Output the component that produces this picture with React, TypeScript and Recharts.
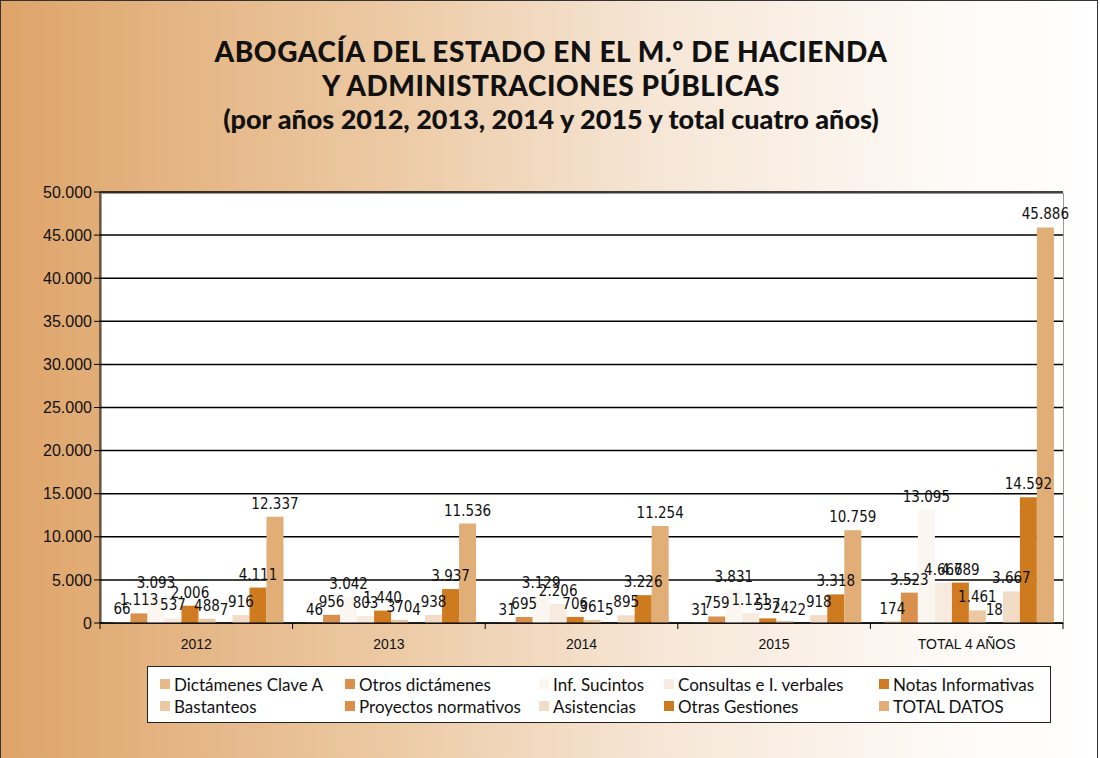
import { BarChart, Bar, XAxis, YAxis, CartesianGrid, LabelList } from "recharts"

const categories = ["2012", "2013", "2014", "2015", "TOTAL 4 AÑOS"]
const dictamenesClaveA = [66, 46, 31, 31, 174]
const otrosDictamenes = [1113, 956, 695, 759, 3523]
const infSucintos = [3093, 3042, 3129, 3831, 13095]
const consultasVerbales = [537, 803, 2206, 1121, 4667]
const notasInformativas = [2006, 1440, 706, 537, 4689]
const bastanteos = [488, 370, 361, 242, 1461]
const proyectosNormativos = [7, 4, 5, 2, 18]
const asistencias = [916, 938, 895, 918, 3667]
const otrasGestiones = [4111, 3937, 3226, 3318, 14592]
const totalDatos = [12337, 11536, 11254, 10759, 45886]
const yTicks = [0, 5000, 10000, 15000, 20000, 25000, 30000, 35000, 40000, 45000, 50000]

const series = [
  { key: "dict", name: "Dictámenes Clave A", values: dictamenesClaveA, color: "#e6b98b" },
  { key: "otros", name: "Otros dictámenes", values: otrosDictamenes, color: "#d9904c" },
  { key: "inf", name: "Inf. Sucintos", values: infSucintos, color: "#fcf6f1" },
  { key: "cons", name: "Consultas e I. verbales", values: consultasVerbales, color: "#f7ebdf" },
  { key: "notas", name: "Notas Informativas", values: notasInformativas, color: "#d07b22" },
  { key: "bast", name: "Bastanteos", values: bastanteos, color: "#ecc9a2" },
  { key: "proy", name: "Proyectos normativos", values: proyectosNormativos, color: "#d98f4a" },
  { key: "asist", name: "Asistencias", values: asistencias, color: "#f3dcc5" },
  { key: "otras", name: "Otras Gestiones", values: otrasGestiones, color: "#ce7a1f" },
  { key: "total", name: "TOTAL DATOS", values: totalDatos, color: "#e1ae77" },
]

const data = categories.map((c, i) => {
  const row: Record<string, string | number> = { name: c }
  series.forEach((s) => (row[s.key] = s.values[i]))
  return row
})

const fmt = (v: number) => String(v).replace(/\B(?=(\d{3})+(?!\d))/g, ".")

const W = 1100
const H = 758
const M = { top: 192, right: 37, left: 0, bottom: 105 }
const Y_W = 100
const plotW = W - Y_W - M.right - M.left
const bandW = plotW / categories.length

function XTick(props: any) {
  const { x, y, payload, index } = props
  const top = y - 8
  return (
    <g>
      <line x1={x - bandW / 2} x2={x - bandW / 2} y1={top} y2={top + 6} stroke="#000" />
      {index === categories.length - 1 && (
        <line x1={x + bandW / 2} x2={x + bandW / 2} y1={top} y2={top + 6} stroke="#000" />
      )}
      <text x={x} y={y + 18} textAnchor="middle" fontSize={14} fill="#111" fontFamily="Liberation Sans, Arial, sans-serif">
        {payload.value}
      </text>
    </g>
  )
}

export default function App() {
  const plotH = H - M.top - M.bottom - 30
  return (
    <div
      style={{
        position: "absolute",
        left: 0,
        top: 0,
        width: W - 4,
        height: H - 1,
        border: "1px solid #333",
        borderBottom: "none",
        background: "linear-gradient(to right, #dea469 0%, #ecc9a3 35%, #f6e6d6 60%, #fdf9f5 85%, #ffffff 100%)",
        overflow: "hidden",
        fontFamily: "Lato, 'Open Sans', sans-serif",
      }}
    >
      <div
        style={{
          position: "absolute",
          top: 33,
          left: 0,
          width: W,
          textAlign: "center",
          fontWeight: 900,
          lineHeight: "34px",
          color: "#111",
        }}
      >
        <div style={{ fontSize: 28, letterSpacing: 0.6 }}>ABOGACÍA DEL ESTADO EN EL M.º DE HACIENDA</div>
        <div style={{ fontSize: 28, letterSpacing: 0.6 }}>Y ADMINISTRACIONES PÚBLICAS</div>
        <div style={{ fontSize: 27 }}>(por años 2012, 2013, 2014 y 2015 y total cuatro años)</div>
      </div>
      <div
        style={{
          position: "absolute",
          left: Y_W,
          top: M.top,
          width: plotW,
          height: plotH,
          background: "#fff",
          border: "1px solid #9a9a9a",
          boxSizing: "border-box",
        }}
      />
      <div style={{ position: "absolute", left: -1, top: -1 }}>
        <BarChart width={W} height={H} data={data} margin={M} barCategoryGap="7%" barGap={0}>
          <CartesianGrid vertical={false} stroke="#000" strokeWidth={1.5} />
          <XAxis
            dataKey="name"
            stroke="#000"
            tickLine={false}
            tick={<XTick />}
            height={30}
            interval={0}
          />
          <YAxis
            width={Y_W}
            domain={[0, 50000]}
            ticks={yTicks}
            tickFormatter={fmt}
            stroke="#000"
            tickSize={6}
            tick={{ fill: "#111", fontSize: 16, fontFamily: "Liberation Sans, Arial, sans-serif" }}
          />
          {series.map((s) => (
            <Bar key={s.key} dataKey={s.key} name={s.name} fill={s.color} isAnimationActive={false}>
              <LabelList
                dataKey={s.key}
                position="top"
                offset={8}
                formatter={(v: any) => fmt(Number(v))}
                style={{ fill: "#111", fontSize: 15, fontFamily: "'Liberation Sans Narrow', 'DejaVu Sans Condensed', sans-serif" }}
              />
            </Bar>
          ))}
        </BarChart>
      </div>
      <div
        style={{
          position: "absolute",
          left: 146,
          top: 665,
          width: 904,
          height: 57,
          background: "#fff",
          border: "1.5px solid #222",
          boxSizing: "border-box",
          display: "grid",
          gridTemplateColumns: "185px 194px 125px 215px 180px",
          gridTemplateRows: "22px 22px",
          padding: "6px 0 0 12px",
          fontSize: 17,
          color: "#111",
        }}
      >
        {series.map((s) => (
          <div key={s.key} style={{ display: "flex", alignItems: "center", whiteSpace: "nowrap" }}>
            <span style={{ width: 10, height: 10, background: s.color, marginRight: 4, display: "inline-block" }} />
            {s.name}
          </div>
        ))}
      </div>
    </div>
  )
}
